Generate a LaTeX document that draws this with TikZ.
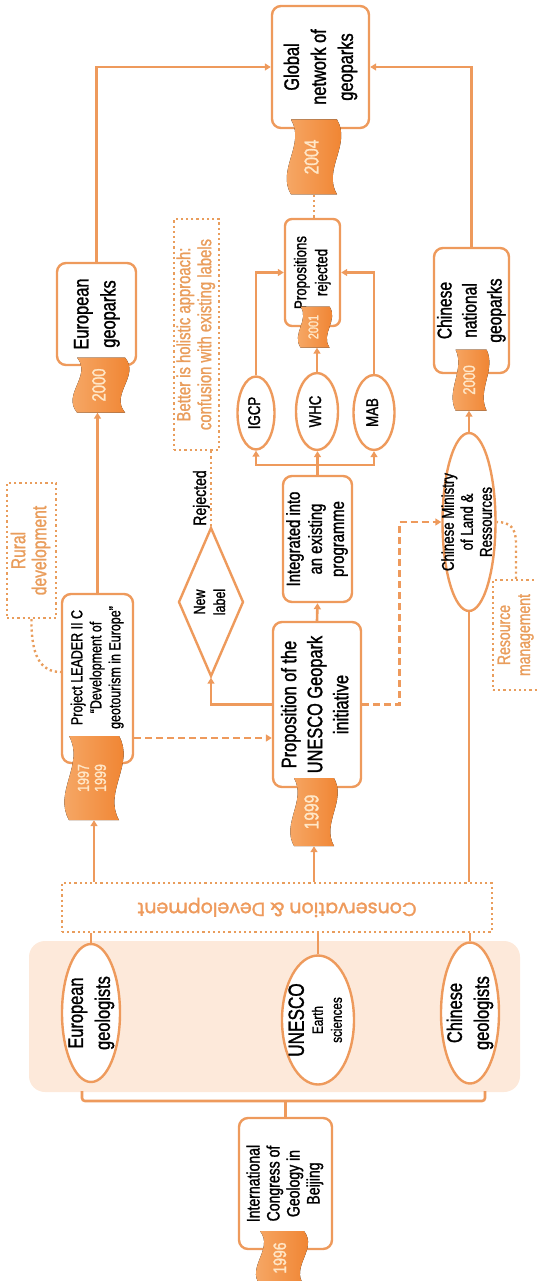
\documentclass[tikz,border=0pt]{standalone}
\usepackage{fontspec}
\setmainfont{Liberation Sans}[FakeStretch=0.78, FakeBold=1.3]
\newfontfamily\confont{Poppins}[FakeBold=1.6]
\usetikzlibrary{shapes.geometric,arrows.meta,calc}
\definecolor{org}{HTML}{EE9A5C}
\definecolor{orgtxt}{HTML}{E99D5C}
\definecolor{peach}{HTML}{FDE9DA}
\definecolor{flagA}{HTML}{F7AD6E}
\definecolor{flagB}{HTML}{EF7F2A}
\definecolor{flagtxt}{HTML}{FFE7C8}
\newcommand\fsz[2]{\fontsize{#1}{#2}\selectfont}
\newcommand\rtx[3]{\rotatebox{90}{\fsz{#1}{#2}\begin{tabular}{@{}c@{}}#3\end{tabular}}}
\newcommand\yflag[6]{%
  \fill[left color=flagA, right color=flagB]
    (#2-#4/2, #3-#5/2) -- (#2+#4/2, #3-#5/2)
    .. controls (#2+#4/2+0.32*#4, #3-#5/6) and (#2+#4/2-0.32*#4, #3+#5/6) .. (#2+#4/2, #3+#5/2)
    -- (#2-#4/2, #3+#5/2)
    .. controls (#2-#4/2-0.32*#4, #3+#5/6) and (#2-#4/2+0.32*#4, #3-#5/6) .. (#2-#4/2, #3-#5/2) -- cycle;
  \node[inner sep=0pt, minimum width=#4, minimum height=#5, text=flagtxt] (#1) at (#2,#3) {#6};
}
\tikzset{
  conn/.style={draw=org, line width=2.6pt},
  arr/.style={conn, -{Triangle[length=6pt,width=7pt]}},
  dashline/.style={draw=org, line width=2.8pt, dash pattern=on 7pt off 4pt},
  dotline/.style={draw=orgtxt, line width=2.4pt, dash pattern=on 2.2pt off 3pt},
  txt/.style={label={[anchor=center, inner sep=0pt]center:{#1}}},
  box/.style={draw=org, line width=2.4pt, fill=white, rounded corners=9pt, inner sep=0pt},
  ell/.style={ellipse, draw=org, line width=2.4pt, fill=white, inner sep=0pt},
  dia/.style={diamond, draw=org, line width=2.4pt, fill=white, inner sep=0pt},
  note/.style={draw=orgtxt, line width=2.2pt, dash pattern=on 2.2pt off 3pt, inner sep=0pt, text=orgtxt},
  bgbox/.style={fill=peach, rounded corners=16pt, inner sep=0pt},
}
\begin{document}
\begin{tikzpicture}[x=1pt, y=-1pt]
\useasboundingbox (0,0) rectangle (536,1281);
% background group
\node[bgbox, minimum width=491, minimum height=151] (bg) at (274.5,1016.5) {};
% ellipses of the origins
\node[ell, minimum width=58, minimum height=138, txt={\rtx{21}{27}{European\\geologists}}] (eug) at (91,1013) {};
\node[ell, minimum width=72, minimum height=129, txt={\rtx{15}{19}{{\fsz{22}{24}UNESCO}\\Earth\\sciences}}] (une) at (318,1020) {};
\node[ell, minimum width=58, minimum height=141, txt={\rtx{21}{27}{Chinese\\geologists}}] (cng) at (470,1013) {};
% conservation box
\node[note, minimum width=430, minimum height=49, text=org] (cons) at (277,907.5) {\rotatebox{180}{\confont\fsz{19}{22}Conservation \& Development}};
% congress
\node[box, minimum width=93, minimum height=131, txt={\rtx{18}{20}{International\\Congress of\\Geology in\\Beijing}}] (cg) at (285.5,1183.5) {};
% European branch
\node[box, minimum width=71, minimum height=169, txt={\rotatebox{90}{\hspace{22pt}\fsz{16}{19}\begin{tabular}{@{}c@{}}Project LEADER II C\\``Development of\\geotourism in Europe''\end{tabular}}}] (ld) at (97.5,678.5) {};
\node[note, minimum width=49, minimum height=135] (rural) at (31.5,550.5) {\rtx{20}{21}{Rural\\development}};
\node[box, minimum width=79, minimum height=102, txt={\rtx{21}{27}{European\\geoparks}}] (eup) at (96.5,314) {};
\node[box, minimum width=97, minimum height=122, txt={\rtx{21}{27}{Global\\network of\\geoparks}}] (gl) at (320.5,67) {};
% UNESCO branch
\node[box, minimum width=88, minimum height=165, txt={\rtx{21}{26}{Proposition of the\\UNESCO Geopark\\initiative}}] (prop) at (317,704.5) {};
\node[box, minimum width=69, minimum height=126, txt={\rtx{19}{22}{Integrated into\\an existing\\programme}}] (int) at (317.5,539) {};
\node[dia, minimum width=65, minimum height=149, txt={\rtx{16}{20}{New\\label}}] (nl) at (211,602) {};
\node[inner sep=0pt] (rej) at (202,498) {\rtx{18}{20}{Rejected}};
\node[note, minimum width=45, minimum height=231] (better) at (196.5,334.5) {\rtx{19}{21}{Better is holistic approach:\\confusion with existing labels}};
\node[ell, minimum width=37, minimum height=73, txt={\rtx{17}{20}{IGCP}}] (igcp) at (256,413) {};
\node[ell, minimum width=42, minimum height=77, txt={\rtx{17}{20}{WHC}}] (whc) at (317,411.5) {};
\node[ell, minimum width=41, minimum height=75, txt={\rtx{17}{20}{MAB}}] (mab) at (374,412.5) {};
\node[box, rounded corners=7pt, minimum width=55, minimum height=107, txt={\rtx{17}{21}{Propositions\\rejected}}] (pr) at (312.5,272.5) {};
% Chinese branch
\node[ell, minimum width=53, minimum height=178, txt={\rtx{17}{19}{Chinese Ministry\\of Land \&\\Ressources}}] (min) at (469,522) {};
\node[box, minimum width=75, minimum height=125, txt={\rtx{20}{25}{Chinese\\national\\geoparks}}] (cnp) at (471.5,310.5) {};
\node[note, minimum width=46, minimum height=110] (res) at (516,635) {\rtx{18}{20}{Resource\\management}};
% year flags
\yflag{f96}{282}{1258}{44}{54}{\rtx{18}{20}{1996}}
\yflag{f97}{94}{778}{50}{84}{\rtx{16}{17}{1997\\1999}}
\yflag{f99}{314}{812}{40}{68}{\rtx{20}{22}{1999}}
\yflag{f00e}{101}{385}{48}{55}{\rtx{19}{22}{2000}}
\yflag{f00c}{471}{380}{31}{61}{\rtx{17}{20}{2000}}
\yflag{f01}{315}{327}{29}{41}{\rtx{14}{16}{2001}}
\yflag{f04}{314}{157}{46}{75}{\rtx{20}{22}{2004}}
% connectors: origins
\draw[conn] (eug.north) -- (eug.north |- cons.south);
\draw[conn] (une.north) -- (une.north |- cons.south);
\draw[conn] (cng.north) -- (cng.north |- cons.south);
\coordinate (bl) at (82,1091);
\coordinate (br) at (485,1091);
\draw[conn, rounded corners=3pt] (bl) -- ++(0,10) -| (br);
\draw[conn] (cg.north) -- ++(0,-17);
\draw[arr] (cons.north -| f97.south) -- (f97.south);
\draw[arr] (cons.north -| f99.south) -- (f99.south);
\draw[conn] (cons.north -| min.south) -- (min.south);
% European branch
\draw[arr] (ld.north) -- (ld.north |- f00e.south);
\draw[arr] (eup.north) |- (gl.west);
\draw[dotline] (rural.south) .. controls (31,655) and (40,672) .. (ld.west |- 0,672);
\draw[dashline, -{Triangle[length=6pt,width=7pt]}] (ld.east |- 0,738) -- (prop.west |- 0,738);
% UNESCO branch
\draw[arr] (prop.north) -- (int.south);
\draw[arr] (prop.west) -| (nl.south);
\draw[dotline] (nl.north |- better.south) -- (nl.north);
\draw[conn] (int.north) -- ++(0,-10) coordinate (j);
\draw[arr] (j) -| (igcp.south);
\draw[arr] (j) -| (mab.south);
\draw[arr] (j) -- (j |- whc.south);
\draw[arr] (igcp.north) |- (pr.west);
\draw[arr] (mab.north) |- (pr.east);
\draw[arr] (whc.north) -- (whc.north |- f01.south);
\draw[dotline] (f04.south) -- (f04.south |- pr.north);
% Chinese branch
\draw[dashline, -{Triangle[length=6pt,width=7pt]}] (prop.east) -- ++(37,0) |- (min.west);
\draw[arr] (min.north) -- (min.north |- f00c.south);
\draw[arr] (cnp.north) |- (gl.east);
\draw[dotline] (res.north) -- (516,543) .. controls (516,528) and (510,522) .. (min.east);
\end{tikzpicture}
\end{document}
